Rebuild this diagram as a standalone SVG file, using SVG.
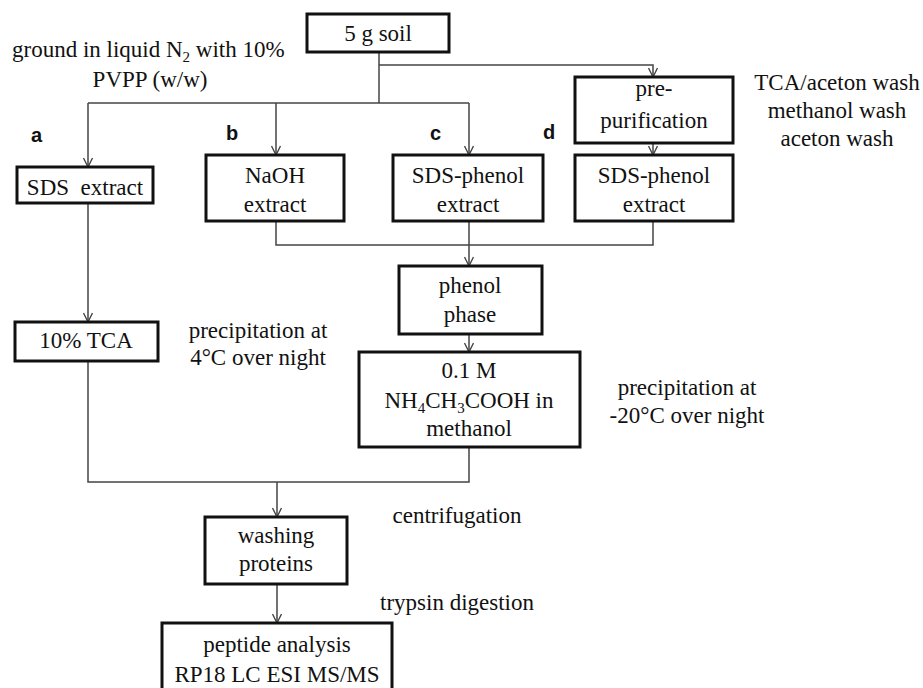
<svg xmlns="http://www.w3.org/2000/svg" width="923" height="688" viewBox="0 0 923 688">
<defs>
<style>
.box{fill:#fff;stroke:#111;stroke-width:3}
.t{font-family:"Liberation Serif","Times New Roman",serif;font-size:23px;fill:#111;text-anchor:middle}
.tl{font-family:"Liberation Serif","Times New Roman",serif;font-size:23px;fill:#111}
.lab{font-family:"Liberation Sans",Arial,sans-serif;font-size:20px;font-weight:bold;fill:#111}
.c{fill:none;stroke:#444;stroke-width:1.5}
.sub{font-size:15px}
</style>
<marker id="ar" markerWidth="12" markerHeight="10" refX="10" refY="5" orient="auto" markerUnits="userSpaceOnUse">
<path d="M1,0.5 L10,5 L1,9.5" fill="none" stroke="#444" stroke-width="1.4"/>
</marker>
</defs>
<rect width="923" height="688" fill="#fff"/>

<g id="connectors">
<path class="c" d="M379,52 V103"/>
<path class="c" d="M88,103 H469"/>
<path class="c" d="M88,103 V167" marker-end="url(#ar)"/>
<path class="c" d="M276,103 V155" marker-end="url(#ar)"/>
<path class="c" d="M469,103 V155" marker-end="url(#ar)"/>
<path class="c" d="M379,65 H653 V77" marker-end="url(#ar)"/>
<path class="c" d="M653,143 V155" marker-end="url(#ar)"/>
<path class="c" d="M88,203 V322" marker-end="url(#ar)"/>
<path class="c" d="M276,221 V245 H653 V221"/>
<path class="c" d="M469,221 V266" marker-end="url(#ar)"/>
<path class="c" d="M469,334 V352" marker-end="url(#ar)"/>
<path class="c" d="M88,361 V482 H469 V447"/>
<path class="c" d="M277,482 V517" marker-end="url(#ar)"/>
<path class="c" d="M277,584 V623" marker-end="url(#ar)"/>
</g>

<g id="soil">
<rect class="box" x="307" y="14" width="142" height="38"/>
<text class="t" x="378" y="41">5 g soil</text>
</g>

<g id="note-ground">
<text class="tl" x="12" y="57">ground in liquid N<tspan class="sub" dy="5">2</tspan><tspan dy="-5"> with 10%</tspan></text>
<text class="t" x="150" y="87">PVPP (w/w)</text>
</g>

<g id="labels">
<text class="lab" x="31" y="142">a</text>
<text class="lab" x="226" y="140">b</text>
<text class="lab" x="430" y="140">c</text>
<text class="lab" x="543" y="139">d</text>
</g>

<g id="sds-extract">
<rect class="box" x="17" y="167" width="136" height="36"/>
<text class="t" x="85" y="195" xml:space="preserve">SDS  extract</text>
</g>

<g id="naoh-extract">
<rect class="box" x="206" y="155" width="138" height="66"/>
<text class="t" x="275" y="183">NaOH</text>
<text class="t" x="275" y="212">extract</text>
</g>

<g id="sds-phenol-c">
<rect class="box" x="393" y="155" width="150" height="66"/>
<text class="t" x="468" y="183">SDS-phenol</text>
<text class="t" x="468" y="212">extract</text>
</g>

<g id="pre-purification">
<rect class="box" x="575" y="77" width="158" height="66"/>
<text class="t" x="654" y="96">pre-</text>
<text class="t" x="654" y="128">purification</text>
</g>

<g id="sds-phenol-d">
<rect class="box" x="575" y="155" width="158" height="66"/>
<text class="t" x="654" y="183">SDS-phenol</text>
<text class="t" x="654" y="212">extract</text>
</g>

<g id="note-wash">
<text class="t" x="837" y="90">TCA/aceton wash</text>
<text class="t" x="837" y="118">methanol wash</text>
<text class="t" x="837" y="146">aceton wash</text>
</g>

<g id="tca">
<rect class="box" x="15" y="322" width="143" height="39"/>
<text class="t" x="86" y="348">10% TCA</text>
</g>

<g id="note-precip-4">
<text class="t" x="258" y="338">precipitation at</text>
<text class="t" x="258" y="365">4°C over night</text>
</g>

<g id="phenol-phase">
<rect class="box" x="399" y="266" width="143" height="68"/>
<text class="t" x="470" y="293">phenol</text>
<text class="t" x="470" y="322">phase</text>
</g>

<g id="ammonium-acetate">
<rect class="box" x="359" y="352" width="221" height="95"/>
<text class="t" x="469" y="378">0.1 M</text>
<text class="t" x="469" y="408">NH<tspan class="sub" dy="5">4</tspan><tspan dy="-5">CH</tspan><tspan class="sub" dy="5">3</tspan><tspan dy="-5">COOH in</tspan></text>
<text class="t" x="469" y="436">methanol</text>
</g>

<g id="note-precip-20">
<text class="t" x="687" y="395">precipitation at</text>
<text class="t" x="687" y="423">-20°C over night</text>
</g>

<g id="washing-proteins">
<rect class="box" x="205" y="517" width="142" height="67"/>
<text class="t" x="276" y="543">washing</text>
<text class="t" x="276" y="571">proteins</text>
</g>

<g id="note-centrifugation">
<text class="t" x="457" y="523">centrifugation</text>
</g>

<g id="note-trypsin">
<text class="t" x="457" y="610">trypsin digestion</text>
</g>

<g id="peptide-analysis">
<rect class="box" x="162" y="623" width="230" height="80"/>
<text class="t" x="277" y="652">peptide analysis</text>
<text class="t" x="277" y="682">RP18 LC ESI MS/MS</text>
</g>
</svg>
